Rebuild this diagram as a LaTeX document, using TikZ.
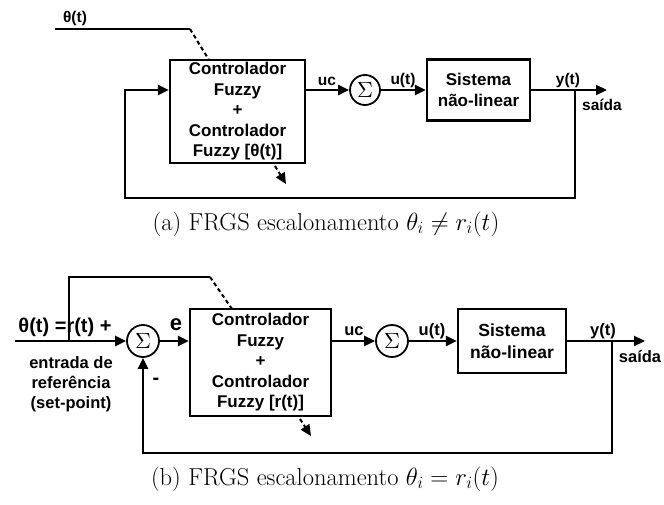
\documentclass[tikz,border=0pt]{standalone}
\usepackage{fontspec}
\usepackage{graphicx}
\newfontfamily\blocofont{Liberation Sans}
\usetikzlibrary{arrows.meta,positioning}

\newcommand{\somatorio}{\scalebox{2.2}{$\Sigma$}}

\begin{document}
\begin{tikzpicture}[x=1pt,y=-1pt,
    bloco/.style={draw, line width=2.2pt, align=center, inner sep=1pt,
      font=\blocofont\bfseries\fontsize{17}{20.5}\selectfont},
    soma/.style={draw, circle, line width=1.8pt, minimum size=30pt, inner sep=0pt,
      font=\fontsize{10}{10}\selectfont},
    rotulo/.style={inner sep=1pt, font=\blocofont\bfseries\fontsize{15.5}{19}\selectfont},
    sinal/.style={line width=2.2pt, -{Triangle[length=11pt,width=10pt]}},
    linha/.style={line width=2.2pt},
    tracejado/.style={line width=2pt, dash pattern=on 4pt off 3pt},
    legenda/.style={font=\fontsize{24.5}{28}\selectfont}]

  \useasboundingbox (0,0) rectangle (664,505);

  % (a)
  \node[bloco, minimum width=135pt, minimum height=103pt] (ctrlA) at (237.5,111.5)
    {Controlador\\Fuzzy\\+\\Controlador\\Fuzzy [θ(t)]};
  \node[soma] (somaA) at (365,90) {\somatorio};
  \node[bloco, minimum width=103pt, minimum height=61pt] (sistA) at (478.5,90)
    {Sistema\\não-linear};

  \coordinate (saiA) at (ctrlA.east |- somaA);
  \coordinate (entA) at (ctrlA.west |- somaA);
  \coordinate (ramoA) at (575,90);
  \coordinate (saidaA) at (607,90);
  \coordinate (cantoA) at (125,198);
  \coordinate (thetaA) at (55,29);
  \coordinate (dobraA) at (190,29);
  \coordinate (topoA) at (209,60);
  \coordinate (escA1) at (275,166);
  \coordinate (escA2) at (286,184);

  \draw[sinal] (saiA) -- (somaA);
  \draw[sinal] (somaA) -- (sistA);
  \draw[sinal] (sistA) -- (saidaA);
  \draw[sinal] (ramoA) |- (cantoA) |- (entA);
  \draw[linha] (thetaA) -- (dobraA);
  \draw[tracejado] (dobraA) -- (topoA);
  \draw[tracejado, -{Triangle[length=11pt,width=10pt]}] (escA1) -- (escA2);

  \node[rotulo] (thetaAl) at (75,18) {θ(t)};
  \node[rotulo] (ucA) at (327,81) {uc};
  \node[rotulo] (uA) at (403,80) {u(t)};
  \node[rotulo] (yA) at (568,80) {y(t)};
  \node[rotulo] (saidaAl) at (602,105) {saída};

  \node[legenda] (legA) at (326,224) {(a) FRGS escalonamento $\theta_i \neq r_i(t)$};

  % (b)
  \node[soma, minimum size=32pt] (somaB1) at (143,341) {\somatorio};
  \node[bloco, minimum width=141pt, minimum height=107pt] (ctrlB) at (260.5,362.5)
    {Controlador\\Fuzzy\\+\\Controlador\\Fuzzy [r(t)]};
  \node[soma, minimum size=32pt] (somaB2) at (392,341) {\somatorio};
  \node[bloco, minimum width=108pt, minimum height=64pt,
    font=\blocofont\bfseries\fontsize{17.5}{22}\selectfont] (sistB) at (512,341)
    {Sistema\\não-linear};

  \coordinate (entB) at (15,341);
  \coordinate (ramoB0) at (69,341);
  \coordinate (ramoB1) at (69,277);
  \coordinate (dobraB) at (210,277);
  \coordinate (topoB) at (232,309);
  \coordinate (saiB) at (ctrlB.east |- somaB2);
  \coordinate (ctrlBent) at (ctrlB.west |- somaB1);
  \coordinate (ramoB) at (612,341);
  \coordinate (saidaB) at (645,341);
  \coordinate (cantoB) at (143,453);
  \coordinate (escB1) at (300,419);
  \coordinate (escB2) at (311,436);

  \draw[sinal] (entB) -- (somaB1);
  \draw[sinal] (somaB1) -- (ctrlBent);
  \draw[sinal] (saiB) -- (somaB2);
  \draw[sinal] (somaB2) -- (sistB);
  \draw[sinal] (sistB) -- (saidaB);
  \draw[sinal] (ramoB) |- (cantoB) -- (somaB1);
  \draw[linha] (ramoB0) -- (ramoB1) -- (dobraB);
  \draw[tracejado] (dobraB) -- (topoB);
  \draw[tracejado, -{Triangle[length=11pt,width=10pt]}] (escB1) -- (escB2);

  \node[rotulo, font=\blocofont\bfseries\fontsize{20}{24}\selectfont] (refB) at (65,327)
    {θ(t) =r(t) +};
  \node[rotulo, font=\blocofont\bfseries\fontsize{22}{24}\selectfont] (eB) at (176,325) {e};
  \node[rotulo, align=center, font=\blocofont\bfseries\fontsize{16.5}{20}\selectfont] (refBl)
    at (71,384) {entrada de\\referência\\(set-point)};
  \node[rotulo, font=\blocofont\bfseries\fontsize{20}{24}\selectfont] (menosB) at (156,381) {-};
  \node[rotulo, font=\blocofont\bfseries\fontsize{16.5}{19}\selectfont] (ucB) at (354,331) {uc};
  \node[rotulo, font=\blocofont\bfseries\fontsize{16.5}{19}\selectfont] (uB) at (432,331) {u(t)};
  \node[rotulo, font=\blocofont\bfseries\fontsize{16.5}{19}\selectfont] (yB) at (603,331) {y(t)};
  \node[rotulo, font=\blocofont\bfseries\fontsize{16.5}{19}\selectfont] (saidaBl) at (640,357) {saída};

  \node[legenda] (legB) at (325,479) {(b) FRGS escalonamento $\theta_i = r_i(t)$};
\end{tikzpicture}
\end{document}
